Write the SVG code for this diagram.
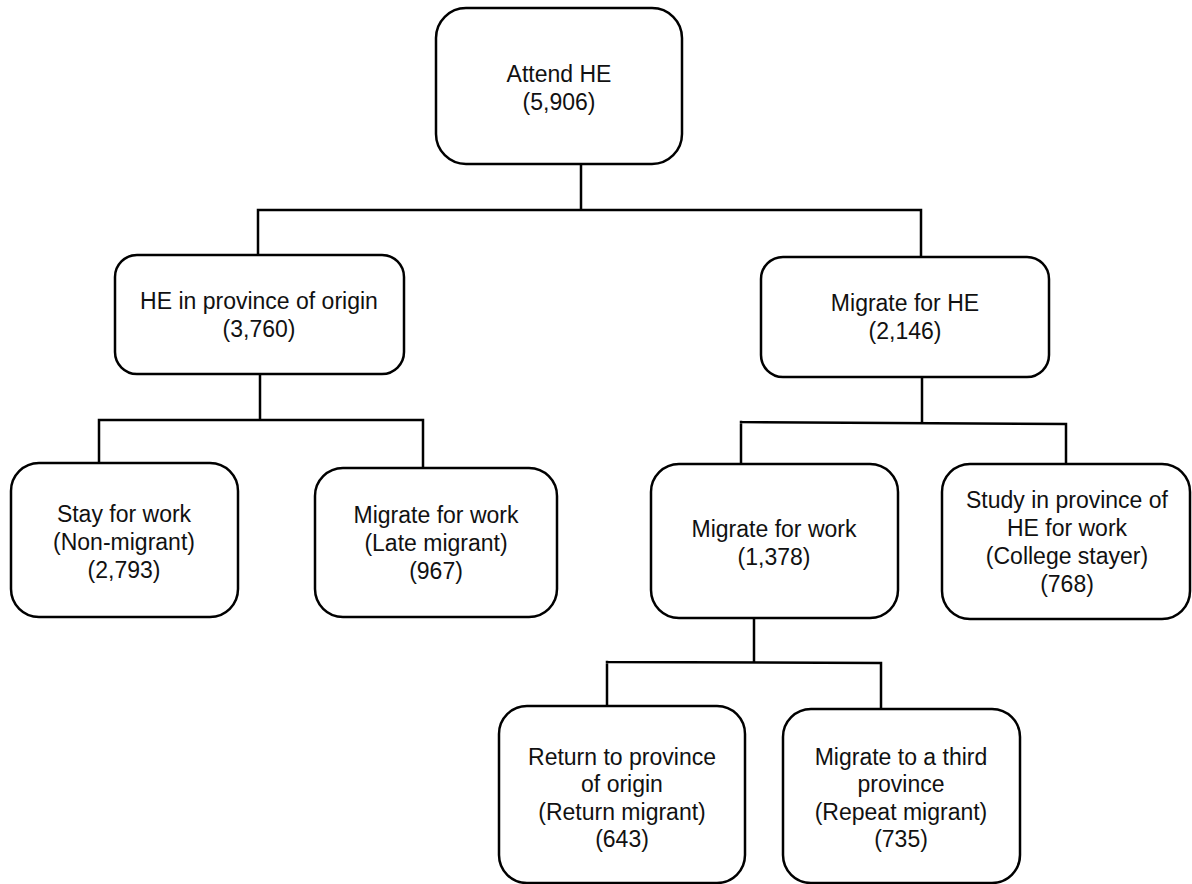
<svg xmlns="http://www.w3.org/2000/svg" width="1192" height="884" viewBox="0 0 1192 884">
<style>
.box{fill:#fff;stroke:#000;stroke-width:2.5}
.ln{fill:none;stroke:#000;stroke-width:2.5;stroke-linecap:square}
text{font-family:"Liberation Sans",Arial,sans-serif;font-size:23px;fill:#111;text-anchor:middle}
</style>
<rect width="1192" height="884" fill="#fff"/>
<g id="connectors">
<path class="ln" d="M581,164 V210 M258,210 H921 M258,210 V255 M921,210 V257"/>
<path class="ln" d="M260,374 V420 M99,420 H423 M99,420 V463 M423,420 V468"/>
<path class="ln" d="M922,377 V423 M741,422 L1066,424 M741,422 V464 M1066,424 V464"/>
<path class="ln" d="M754,618 V662 M607,662 L881,663 M607,662 V706 M881,663 V709"/>
</g>
<g id="n_attend">
<rect class="box" x="436" y="8" width="246" height="156" rx="30"/>
<text x="559" y="82">Attend HE</text>
<text x="559" y="110">(5,906)</text>
</g>
<g id="n_origin">
<rect class="box" x="115" y="255" width="289" height="119" rx="22"/>
<text x="259" y="309">HE in province of origin</text>
<text x="259" y="337">(3,760)</text>
</g>
<g id="n_migrate_he">
<rect class="box" x="761" y="257" width="288" height="120" rx="22"/>
<text x="905" y="311">Migrate for HE</text>
<text x="905" y="339">(2,146)</text>
</g>
<g id="n_stay">
<rect class="box" x="11" y="463" width="227" height="154" rx="28"/>
<text x="124" y="522">Stay for work</text>
<text x="124" y="550">(Non-migrant)</text>
<text x="124" y="578">(2,793)</text>
</g>
<g id="n_late">
<rect class="box" x="315" y="468" width="242" height="149" rx="28"/>
<text x="436" y="523">Migrate for work</text>
<text x="436" y="551">(Late migrant)</text>
<text x="436" y="579">(967)</text>
</g>
<g id="n_migrate_work">
<rect class="box" x="651" y="464" width="247" height="154" rx="28"/>
<text x="774" y="537">Migrate for work</text>
<text x="774" y="565">(1,378)</text>
</g>
<g id="n_college">
<rect class="box" x="942" y="464" width="248" height="155" rx="28"/>
<text x="1067" y="508">Study in province of</text>
<text x="1067" y="536">HE for work</text>
<text x="1067" y="564">(College stayer)</text>
<text x="1067" y="592">(768)</text>
</g>
<g id="n_return">
<rect class="box" x="499" y="706" width="246" height="177" rx="28"/>
<text x="622" y="765">Return to province</text>
<text x="622" y="792">of origin</text>
<text x="622" y="820">(Return migrant)</text>
<text x="622" y="847">(643)</text>
</g>
<g id="n_repeat">
<rect class="box" x="783" y="709" width="237" height="174" rx="28"/>
<text x="901" y="765">Migrate to a third</text>
<text x="901" y="792">province</text>
<text x="901" y="820">(Repeat migrant)</text>
<text x="901" y="847">(735)</text>
</g>
</svg>
